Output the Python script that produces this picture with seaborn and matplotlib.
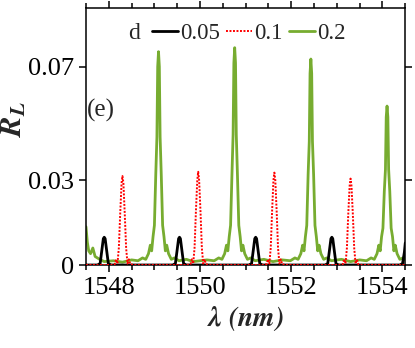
import numpy as np
import matplotlib
matplotlib.use('Agg')
import matplotlib.pyplot as plt
from matplotlib.ticker import MultipleLocator, FixedLocator, FixedFormatter
import seaborn as sns

# wavelength (nm) and R_L, d = 0.05
lam_005 = [1547.50, 1547.75, 1547.81, 1547.85, 1547.88, 1547.90, 1547.92, 1547.95, 1547.99, 1548.05,
           1549.40, 1549.46, 1549.50, 1549.53, 1549.55, 1549.57, 1549.60, 1549.64, 1549.70,
           1551.07, 1551.13, 1551.17, 1551.20, 1551.22, 1551.24, 1551.27, 1551.31, 1551.37,
           1552.74, 1552.80, 1552.84, 1552.87, 1552.89, 1552.91, 1552.94, 1552.98, 1553.04,
           1554.38, 1554.44, 1554.48, 1554.50]
r_005 = [0.0, 0.0, 0.0005, 0.0055, 0.0093, 0.0098, 0.0093, 0.0055, 0.0005, 0.0,
         0.0, 0.0005, 0.0055, 0.0093, 0.0098, 0.0093, 0.0055, 0.0005, 0.0,
         0.0, 0.0005, 0.0055, 0.0093, 0.0098, 0.0093, 0.0055, 0.0005, 0.0,
         0.0, 0.0005, 0.0055, 0.0093, 0.0098, 0.0093, 0.0055, 0.0005, 0.0,
         0.0, 0.0005, 0.0045, 0.0078]

# d = 0.1
lam_01 = [1547.50, 1548.05, 1548.13, 1548.16, 1548.19, 1548.22, 1548.25, 1548.28, 1548.30,
          1548.32, 1548.35, 1548.38, 1548.41, 1548.44, 1548.47, 1548.55,
          1549.71, 1549.79, 1549.82, 1549.85, 1549.88, 1549.91, 1549.94, 1549.96,
          1549.98, 1550.01, 1550.04, 1550.07, 1550.10, 1550.13, 1550.21,
          1551.38, 1551.46, 1551.49, 1551.52, 1551.55, 1551.58, 1551.61, 1551.63,
          1551.65, 1551.68, 1551.71, 1551.74, 1551.77, 1551.80, 1551.88,
          1553.05, 1553.13, 1553.16, 1553.19, 1553.22, 1553.25, 1553.28, 1553.30,
          1553.32, 1553.35, 1553.38, 1553.41, 1553.44, 1553.47, 1553.55, 1554.50]
r_01 = [0.0, 0.0, 0.0003, 0.002, 0.0005, 0.006, 0.018, 0.029, 0.0314,
        0.029, 0.018, 0.006, 0.0005, 0.002, 0.0003, 0.0,
        0.0, 0.0003, 0.002, 0.0005, 0.006, 0.019, 0.030, 0.0329,
        0.030, 0.019, 0.006, 0.0005, 0.002, 0.0003, 0.0,
        0.0, 0.0003, 0.002, 0.0005, 0.006, 0.019, 0.030, 0.0326,
        0.030, 0.019, 0.006, 0.0005, 0.002, 0.0003, 0.0,
        0.0, 0.0003, 0.002, 0.0005, 0.006, 0.018, 0.028, 0.0305,
        0.028, 0.018, 0.006, 0.0005, 0.002, 0.0003, 0.0, 0.0]

# d = 0.2
lam_02 = [1547.50, 1547.53, 1547.56, 1547.60, 1547.65, 1547.70, 1547.80, 1547.90, 1548.10, 1548.30, 1548.50,
          1548.64, 1548.74, 1548.81, 1548.87, 1548.91, 1548.94, 1548.97, 1549.00, 1549.03, 1549.055, 1549.072,
          1549.09, 1549.108, 1549.125, 1549.15, 1549.18, 1549.21, 1549.24, 1549.27, 1549.31, 1549.37, 1549.44, 1549.54,
          1549.70, 1549.85, 1550.00, 1550.15,
          1550.31, 1550.41, 1550.48, 1550.54, 1550.58, 1550.61, 1550.64, 1550.67, 1550.70, 1550.725, 1550.742,
          1550.76, 1550.778, 1550.795, 1550.82, 1550.85, 1550.88, 1550.91, 1550.94, 1550.98, 1551.04, 1551.11, 1551.21,
          1551.40, 1551.60, 1551.80,
          1551.98, 1552.08, 1552.15, 1552.21, 1552.25, 1552.28, 1552.31, 1552.34, 1552.37, 1552.395, 1552.412,
          1552.43, 1552.448, 1552.465, 1552.49, 1552.52, 1552.55, 1552.58, 1552.61, 1552.65, 1552.71, 1552.78, 1552.88,
          1553.10, 1553.30, 1553.50,
          1553.65, 1553.75, 1553.82, 1553.88, 1553.92, 1553.95, 1553.98, 1554.01, 1554.04, 1554.065, 1554.082,
          1554.10, 1554.118, 1554.135, 1554.16, 1554.19, 1554.22, 1554.25, 1554.28, 1554.32, 1554.38, 1554.45, 1554.50]
r_02 = [0.0135, 0.008, 0.005, 0.004, 0.006, 0.003, 0.002, 0.0012, 0.0015, 0.001, 0.0018,
        0.0015, 0.0025, 0.002, 0.004, 0.007, 0.005, 0.010, 0.014, 0.032, 0.0452, 0.0700,
        0.0753, 0.0700, 0.0452, 0.032, 0.014, 0.010, 0.005, 0.007, 0.004, 0.002, 0.0025, 0.0015,
        0.002, 0.0012, 0.0015, 0.0018,
        0.0015, 0.0025, 0.002, 0.004, 0.007, 0.005, 0.010, 0.014, 0.032, 0.0460, 0.0713,
        0.0767, 0.0713, 0.0460, 0.032, 0.014, 0.010, 0.005, 0.007, 0.004, 0.002, 0.0025, 0.0015,
        0.002, 0.0012, 0.0018,
        0.0015, 0.0025, 0.002, 0.004, 0.007, 0.005, 0.010, 0.014, 0.032, 0.0436, 0.0676,
        0.0727, 0.0676, 0.0436, 0.032, 0.014, 0.010, 0.005, 0.007, 0.004, 0.002, 0.0025, 0.0015,
        0.002, 0.0012, 0.0018,
        0.0015, 0.0025, 0.002, 0.004, 0.007, 0.005, 0.010, 0.013, 0.026, 0.0337, 0.0522,
        0.0561, 0.0522, 0.0337, 0.026, 0.013, 0.010, 0.005, 0.007, 0.004, 0.002, 0.0025, 0.0018]

y_ticks = [0, 0.03, 0.07]
y_tick_labels = ['0', '0.03', '0.07']
x_ticks = [1548, 1550, 1552, 1554]

sns.set_style('ticks')
plt.rcParams['font.family'] = ['Liberation Serif', 'DejaVu Serif']
plt.rcParams['mathtext.fontset'] = 'stix'

fig = plt.figure(figsize=(4.15, 3.48), dpi=100)
ax = fig.add_axes([0.2072, 0.2385, 0.7694, 0.7376])

sns.lineplot(x=lam_005, y=r_005, ax=ax, color='black', lw=2.0, label='0.05',
             estimator=None, sort=False, zorder=3)
sns.lineplot(x=lam_01, y=r_01, ax=ax, color='#ff0000', lw=1.4, label='0.1',
             estimator=None, sort=False, zorder=4)
sns.lineplot(x=lam_02, y=r_02, ax=ax, color='#77ac30', lw=2.0, label='0.2',
             estimator=None, sort=False, zorder=2)
ax.lines[1].set_linestyle((0, (1, 0.8)))

ax.set_xlim(1547.5, 1554.5)
ax.set_ylim(0, 0.0906)

ax.xaxis.set_major_locator(FixedLocator(x_ticks))
ax.xaxis.set_minor_locator(MultipleLocator(0.5))
ax.yaxis.set_major_locator(FixedLocator(y_ticks))
ax.yaxis.set_major_formatter(FixedFormatter(y_tick_labels))

ax.tick_params(which='both', direction='out', top=True, right=True, width=1.1, labelsize=19, colors='black')
ax.tick_params(which='major', length=4.8, pad=4)
ax.tick_params(which='minor', length=3.4)
for s in ax.spines.values():
    s.set_linewidth(1.1)
    s.set_color('black')

ax.set_xlabel(r'$\mathbfit{\lambda}$ $\mathbfit{(nm)}$', fontsize=20, labelpad=4)
ax.set_ylabel(r'$\mathbfit{R}_{\mathbfit{L}}$', fontsize=22)
ax.yaxis.set_label_coords(-0.18, 0.57)

ax.legend(loc='center left', bbox_to_anchor=(0.207, 0.903), ncol=3, frameon=False,
          fontsize=16.5, handlelength=1.13, handletextpad=0.1, columnspacing=0.26,
          borderpad=0, borderaxespad=0)
ax.text(0.132, 0.903, 'd', transform=ax.transAxes, fontsize=17, ha='left', va='center')
ax.text(0.003, 0.603, '(e)', transform=ax.transAxes, fontsize=18, ha='left', va='center')

fig.savefig('out.png', dpi=100)
